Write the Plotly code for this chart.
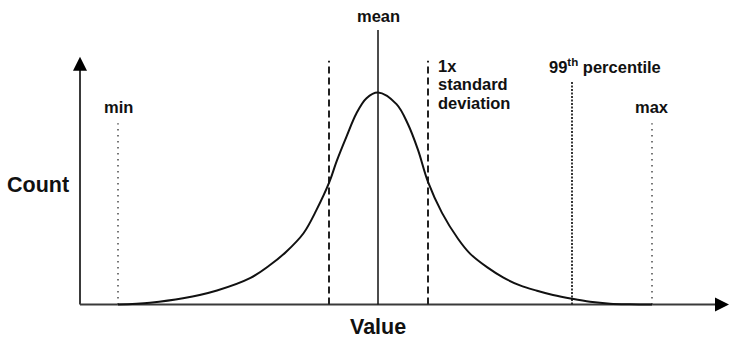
import plotly.graph_objects as go

# ---- data (value units: mean = 0, 1 sd = 1; count relative to peak) ----
curve_x = [-5.2, -4.56, -3.9, -3.22, -2.56, -2.16, -1.83, -1.49, -1.23, -0.97, -0.83, -0.63, -0.43, -0.23, 0.0,
           0.37, 0.6, 0.8, 1.0, 1.28, 1.6, 1.84, 2.18, 2.5, 2.84, 3.18, 3.5, 3.88, 4.24, 4.64, 5.04, 5.48]
curve_y = [0.0, 0.0085, 0.029, 0.066, 0.124, 0.186, 0.250, 0.336, 0.446, 0.579, 0.674, 0.792, 0.902, 0.973, 1.0,
           0.945, 0.850, 0.729, 0.578, 0.432, 0.310, 0.240, 0.176, 0.128, 0.090, 0.065, 0.045, 0.027,
           0.013, 0.004, 0.001, 0.0]

stat_names = ["min", "sd_low", "mean", "sd_high", "p99", "max"]
stat_values = [-5.2, -0.98, 0.0, 1.0, 3.88, 5.48]

axis_labels = ["Value", "Count"]

stats = dict(zip(stat_names, stat_values))

FONT = "Arial, Liberation Sans, Helvetica, sans-serif"
INK = "#111111"
AXIS = "#3a3a3a"

fig = go.Figure()

# axes with arrows
x0 = -5.96
fig.add_trace(go.Scatter(x=[x0, x0], y=[0, 1.13], mode="lines",
                         line=dict(color=AXIS, width=2), hoverinfo="skip"))
fig.add_trace(go.Scatter(x=[x0, 6.9], y=[0, 0], mode="lines",
                         line=dict(color=AXIS, width=2), hoverinfo="skip"))
fig.add_trace(go.Scatter(x=[x0], y=[1.168], mode="markers",
                         marker=dict(symbol="arrow-up", size=14, color="#000",
                                     line=dict(width=0)), hoverinfo="skip"))
fig.add_trace(go.Scatter(x=[7.02], y=[0], mode="markers",
                         marker=dict(symbol="arrow-right", size=14, color="#000",
                                     line=dict(width=0)), hoverinfo="skip"))

# vertical reference lines
def vline(xv, top, dash, width, color):
    fig.add_trace(go.Scatter(x=[xv, xv], y=[0, top], mode="lines",
                             line=dict(color=color, width=width, dash=dash),
                             hoverinfo="skip"))

vline(stats["min"], 0.855, "1.5px,4.5px", 1.6, "#555555")
vline(stats["max"], 0.855, "1.5px,4.5px", 1.6, "#555555")
vline(stats["p99"], 1.05, "2px,1.5px", 1.8, "#222222")
vline(stats["sd_low"], 1.15, "7px,4px", 2, "#222222")
vline(stats["sd_high"], 1.15, "7px,4px", 2, "#222222")
vline(stats["mean"], 1.295, "solid", 1.5, "#111111")

# distribution curve
fig.add_trace(go.Scatter(x=curve_x, y=curve_y, mode="lines",
                         line=dict(color="#111111", width=2, shape="spline", smoothing=1.0),
                         hoverinfo="skip"))

def label(text, xv, yv, anchor="center", size=16.5):
    fig.add_annotation(x=xv, y=yv, text=text, showarrow=False, xanchor=anchor,
                       yanchor="middle", font=dict(family=FONT, size=size, color=INK))

label("<b>mean</b>", stats["mean"], 1.36)
label("<b>1x</b>", 1.16, 1.125, "left")
label("<b>standard</b>", 1.16, 1.04, "left")
label("<b>deviation</b>", 1.16, 0.951, "left")
label("<b>99<sup>th</sup> percentile</b>", 3.38, 1.125, "left")
label("<b>min</b>", stats["min"], 0.93)
label("<b>max</b>", stats["max"], 0.93)
label("<b>" + axis_labels[1] + "</b>", -6.8, 0.565, size=21.5)
label("<b>" + axis_labels[0] + "</b>", 0.0, -0.105, size=21.5)

fig.update_layout(
    width=729, height=338,
    margin=dict(l=0, r=0, t=0, b=0),
    paper_bgcolor="white", plot_bgcolor="white",
    showlegend=False,
    xaxis=dict(range=[-7.56, 7.02], visible=False, fixedrange=True),
    yaxis=dict(range=[-0.158, 1.436], visible=False, fixedrange=True),
)

fig.write_html("out.html", config={"displayModeBar": False},
               post_script="document.body.style.margin='0';document.body.style.overflow='hidden';")
